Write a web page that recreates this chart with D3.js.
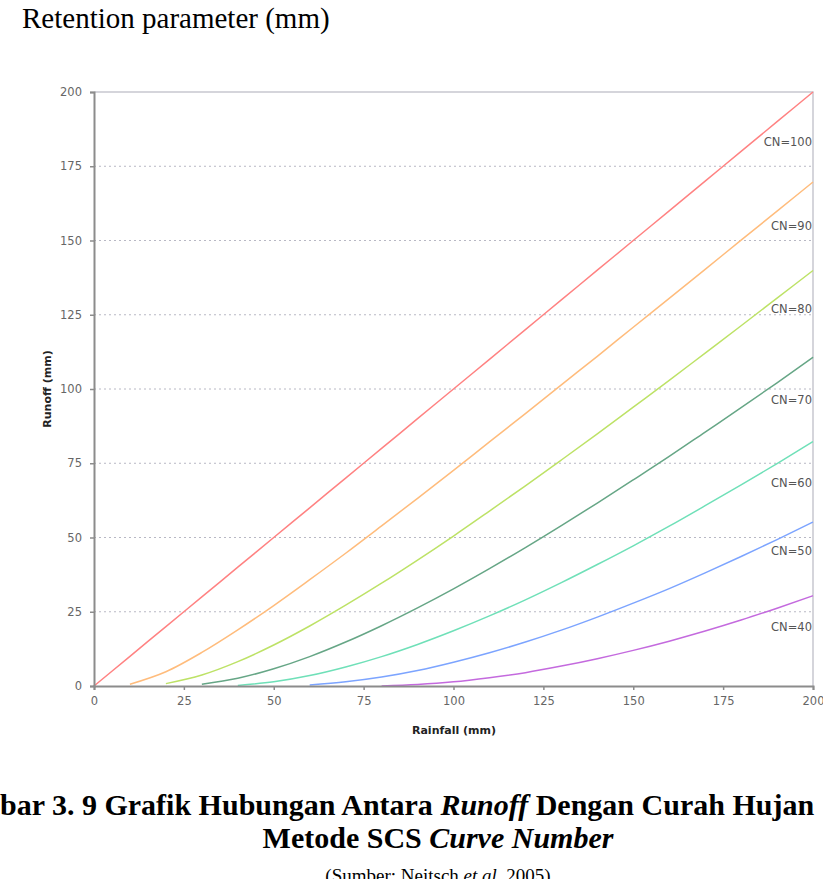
<!DOCTYPE html>
<html>
<head>
<meta charset="utf-8">
<script src="https://cdn.jsdelivr.net/npm/d3@7"></script>
<style>
  body { margin: 0; background: #fff; overflow: hidden; }
  svg { display: block; }
</style>
</head>
<body>
<div id="chart"></div>
<script>
// rainfall (mm) sample points read along the x axis
const rainfall = [0, 10, 20, 30, 40, 50, 60, 70, 80, 90, 100,
                  110, 120, 130, 140, 150, 160, 170, 180, 190, 200];

// runoff (mm) for each curve number, null where no line is drawn
const cn100 = [0, 10, 20, 30, 40, 50, 60, 70, 80, 90, 100,
               110, 120, 130, 140, 150, 160, 170, 180, 190, 200];
const cn90 = [null, 0.6, 4.8, 11.3, 18.9, 27.1, 35.8, 44.7, 53.9, 63.2, 72.6,
              82.2, 91.7, 101.4, 111.0, 120.8, 130.5, 140.3, 150.1, 159.9, 169.7];
const cn80 = [null, null, 0.8, 3.7, 8.2, 13.8, 20.2, 27.2, 34.6, 42.4, 50.5,
              58.9, 67.4, 76.1, 84.9, 93.9, 102.9, 112.1, 121.3, 130.6, 139.9];
const cn70 = [null, null, null, 0.6, 2.6, 5.8, 9.9, 14.8, 20.3, 26.3, 32.7,
              39.5, 46.6, 54.0, 61.6, 69.4, 77.3, 85.5, 93.7, 102.1, 110.7];
const cn60 = [null, null, null, null, 0.2, 1.4, 3.5, 6.4, 9.9, 14.0, 18.6,
              23.6, 29.0, 34.8, 40.9, 47.2, 53.8, 60.7, 67.7, 74.9, 82.3];
const cn50 = [null, null, null, null, null, null, 0.3, 1.4, 3.0, 5.2, 8.0,
              11.2, 14.8, 18.8, 23.2, 27.9, 32.8, 38.1, 43.6, 49.3, 55.2];
const cn40 = [null, null, null, null, null, null, null, null, 0.0, 0.5, 1.4,
              2.8, 4.5, 6.7, 9.2, 12.0, 15.1, 18.5, 22.2, 26.2, 30.4];

const seriesNames = ["CN=100", "CN=90", "CN=80", "CN=70", "CN=60", "CN=50", "CN=40"];
const seriesValues = [cn100, cn90, cn80, cn70, cn60, cn50, cn40];

const xTicks = [0, 25, 50, 75, 100, 125, 150, 175, 200];
const yTicks = [0, 25, 50, 75, 100, 125, 150, 175, 200];

const W = 823, H = 879;
const svg = d3.select("#chart").append("svg").attr("width", W).attr("height", H);

const serif = "'Liberation Serif', 'Times New Roman', serif";
const chartFont = "'DejaVu Sans', Verdana, sans-serif";

// page heading above the figure
svg.append("text")
  .attr("x", 22).attr("y", 28)
  .style("font-family", serif)
  .style("font-size", "29px")
  .text("Retention parameter (mm)");

const plot = { left: 94, right: 813, top: 92, bottom: 686 };

const x = d3.scaleLinear().domain([0, 200]).range([plot.left, plot.right]);
const y = d3.scaleLinear().domain([0, 200]).range([plot.bottom, plot.top]);

const colors = ["#ff8282", "#ffbc7c", "#bde266", "#66a686", "#6fe0b8", "#7ca4ff", "#c46ade"];
const labelDy = [50, 44, 38, 43, 41, 29, 31];

// dotted gridlines
svg.append("g")
  .selectAll("line")
  .data(yTicks.filter(d => d > 0 && d < 200))
  .join("line")
  .attr("x1", plot.left).attr("x2", plot.right)
  .attr("y1", d => y(d)).attr("y2", d => y(d))
  .attr("stroke", "#b8b8c4")
  .attr("stroke-width", 1)
  .attr("stroke-dasharray", "2,3");

// top and right frame
svg.append("path")
  .attr("d", `M${plot.left},${plot.top}H${plot.right}V${plot.bottom}`)
  .attr("fill", "none")
  .attr("stroke", "#c8c8d0")
  .attr("stroke-width", 1.5);

// curves
const line = d3.line()
  .defined(d => d[1] !== null)
  .x(d => x(d[0]))
  .y(d => y(d[1]))
  .curve(d3.curveMonotoneX);

svg.append("g")
  .selectAll("path")
  .data(seriesValues)
  .join("path")
  .attr("d", vals => line(rainfall.map((r, i) => [r, vals[i]])))
  .attr("fill", "none")
  .attr("stroke", (d, i) => colors[i])
  .attr("stroke-width", 1.5);

// curve labels near the right edge
svg.append("g")
  .selectAll("text")
  .data(seriesNames)
  .join("text")
  .attr("x", plot.right - 1)
  .attr("y", (d, i) => y(seriesValues[i][seriesValues[i].length - 1]) + labelDy[i])
  .attr("dy", "0.35em")
  .attr("text-anchor", "end")
  .style("font-family", chartFont)
  .style("font-size", "11.5px")
  .attr("fill", "#555")
  .text(d => d);

// axes
const xAxis = d3.axisBottom(x).tickValues(xTicks).tickSize(4).tickPadding(7);
const yAxis = d3.axisLeft(y).tickValues(yTicks).tickSize(4).tickPadding(8);

const gx = svg.append("g").attr("transform", `translate(0,${plot.bottom})`).call(xAxis);
const gy = svg.append("g").attr("transform", `translate(${plot.left},0)`).call(yAxis);

[gx, gy].forEach(g => {
  g.select(".domain").attr("stroke", "#8c8c8c").attr("stroke-width", 2);
  g.selectAll(".tick line").attr("stroke", "#8c8c8c").attr("stroke-width", 1.5);
  g.selectAll(".tick text")
    .style("font-family", chartFont)
    .style("font-size", "11.5px")
    .attr("fill", "#666");
});

// axis titles
svg.append("text")
  .attr("x", 454).attr("y", 734)
  .attr("text-anchor", "middle")
  .style("font-family", chartFont)
  .style("font-size", "11px")
  .style("font-weight", "bold")
  .attr("fill", "#222")
  .text("Rainfall (mm)");

svg.append("text")
  .attr("transform", `translate(51,${(plot.top + plot.bottom) / 2}) rotate(-90)`)
  .attr("text-anchor", "middle")
  .style("font-family", chartFont)
  .style("font-size", "11px")
  .style("font-weight", "bold")
  .attr("fill", "#222")
  .text("Runoff (mm)");

// figure caption, the first line runs past both edges as in the scan
const cap1 = svg.append("text")
  .attr("y", 815)
  .style("font-family", serif)
  .style("font-size", "30px")
  .style("font-weight", "bold");
const lead = cap1.append("tspan").text("Gam");
const leadW = lead.node().getComputedTextLength();
lead.text("Gambar 3. 9 Grafik Hubungan Antara ");
cap1.append("tspan").style("font-style", "italic").text("Runoff");
cap1.append("tspan").text(" Dengan Curah Hujan");
cap1.attr("x", -leadW);

const cap2 = svg.append("text")
  .attr("x", 438).attr("y", 848)
  .attr("text-anchor", "middle")
  .style("font-family", serif)
  .style("font-size", "30px")
  .style("font-weight", "bold");
cap2.append("tspan").text("Metode SCS ");
cap2.append("tspan").style("font-style", "italic").text("Curve Number");

const cap3 = svg.append("text")
  .attr("x", 438).attr("y", 882)
  .attr("text-anchor", "middle")
  .style("font-family", serif)
  .style("font-size", "19px");
cap3.append("tspan").text("(Sumber: Neitsch ");
cap3.append("tspan").style("font-style", "italic").text("et al.");
cap3.append("tspan").text(" 2005)");
</script>
</body>
</html>
